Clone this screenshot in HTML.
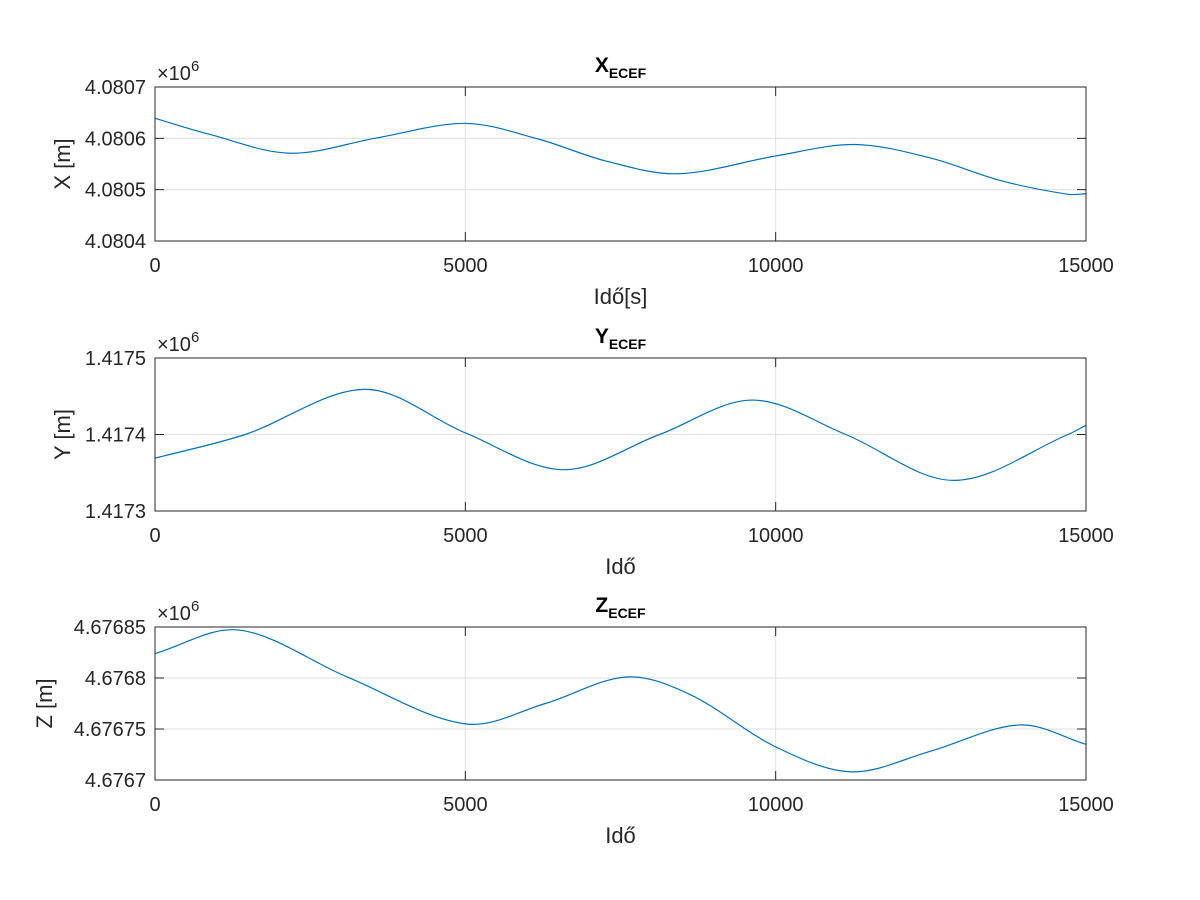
<!DOCTYPE html>
<html><head><meta charset="utf-8"><style>
html,body{margin:0;padding:0;background:#fff;}
svg{display:block;font-family:"Liberation Sans",Arial,sans-serif;}
</style></head><body>
<svg id="fig" width="1200" height="900" viewBox="0 0 1200 900"></svg>
<script>
const tX=[0,871,2177,3581,5003,6194,7258,8419,10016,11274,12484,13645,14710,15000];
const vX=[4.080639,4.080608,4.080571,4.080601,4.080629,4.080598,4.080556,4.080531,4.080566,4.080588,4.080562,4.080517,4.080491,4.080492];
const tY=[0,1452,3387,5003,6581,8129,9629,11129,12871,14710,15000];
const vY=[1.417369,1.4174,1.417459,1.417402,1.417354,1.4174,1.417445,1.4174,1.41734,1.4174,1.417412];
const tZ=[0,1355,3097,5003,6290,7597,8613,10016,11226,12484,13935,15000];
const vZ=[4.676824,4.676847,4.676801,4.676755,4.676775,4.676801,4.676784,4.676732,4.676708,4.676728,4.676754,4.676735];
const xTicks=[0,5000,10000,15000];
const ticksX=["4.0804","4.0805","4.0806","4.0807"];
const ticksY=["1.4173","1.4174","1.4175"];
const ticksZ=["4.6767","4.67675","4.6768","4.67685"];
const NS="http://www.w3.org/2000/svg";
const svg=document.getElementById('fig');
function mk(tag,attrs,parent,text){const e=document.createElementNS(NS,tag);for(const k in attrs)e.setAttribute(k,attrs[k]);if(text!==undefined)e.textContent=text;(parent||svg).appendChild(e);return e;}
const L=155,R=1086;
function panel(top,bot,ts,vs,ticks,title,ylab,xlab,nm,ylx){
  const g=mk('g',{});
  
  
  const y0=parseFloat(ticks[0]),y1=parseFloat(ticks[ticks.length-1]);
  const sx=t=>L+(t-0)/(15000)*(R-L);
  const sy=v=>bot-(v-y0)/(y1-y0)*(bot-top);
  xTicks.forEach(t=>{const x=sx(t);
    const gl=mk('line',{x1:x,x2:x,y1:top,y2:bot,stroke:'#dfdfdf','stroke-width':1},g);
    
    mk('line',{x1:x,x2:x,y1:bot,y2:bot-9,stroke:'#262626'},g);
    mk('line',{x1:x,x2:x,y1:top,y2:top+9,stroke:'#262626'},g);
    const tl=mk('text',{x:x,y:bot+31,'text-anchor':'middle','font-size':20,fill:'#262626'},g,String(t));
    
  });
  ticks.forEach(s=>{const y=sy(parseFloat(s));
    const gl=mk('line',{x1:L,x2:R,y1:y,y2:y,stroke:'#dfdfdf','stroke-width':1},g);
    
    mk('line',{x1:L,x2:L+9,y1:y,y2:y,stroke:'#262626'},g);
    mk('line',{x1:R,x2:R-9,y1:y,y2:y,stroke:'#262626'},g);
    const tl=mk('text',{x:L-9,y:y+7,'text-anchor':'end','font-size':20,fill:'#262626'},g,s);
    
  });
  const P=ts.map((t,i)=>[sx(t),sy(vs[i])]);
  let d='M'+P[0][0]+','+P[0][1];
  for(let i=0;i<P.length-1;i++){
    const p0=P[Math.max(0,i-1)],p1=P[i],p2=P[i+1],p3=P[Math.min(P.length-1,i+2)];
    const h=p2[0]-p1[0];
    const m1=(p2[1]-p0[1])/(p2[0]-p0[0]||1), m2=(p3[1]-p1[1])/(p3[0]-p1[0]||1);
    const c1=[p1[0]+h/3,p1[1]+m1*h/3];
    const c2=[p2[0]-h/3,p2[1]-m2*h/3];
    d+=' C'+c1[0]+','+c1[1]+' '+c2[0]+','+c2[1]+' '+p2[0]+','+p2[1];
  }
  const ln=mk('path',{d:d,fill:'none',stroke:'#0072bd','stroke-width':1.2},g);
  
  const box=mk('rect',{x:L,y:top,width:R-L,height:bot-top,fill:'none',stroke:'#262626','stroke-width':1},g);
  
  const ex=mk('text',{x:L+2,y:top-7,'font-size':20,fill:'#262626'},g);
  
  ex.innerHTML='×10<tspan dy="-9" font-size="15">6</tspan>';
  const ti=mk('text',{x:(L+R)/2,y:top-15,'text-anchor':'middle','font-size':21,'font-weight':'bold',fill:'#000'},g);
  
  ti.innerHTML=title+'<tspan dy="6" font-size="14">ECEF</tspan>';
  const yl=mk('text',{x:0,y:0,'text-anchor':'middle','font-size':22,fill:'#262626',transform:`translate(${ylx},${(top+bot)/2}) rotate(-90)`},g,ylab);
  
  const xl=mk('text',{x:(L+R)/2,y:bot+63,'text-anchor':'middle','font-size':22,fill:'#262626'},g,xlab);
  
}
panel(87,241,tX,vX,ticksX,'X','X [m]','Idő[s]','x-ecef',70);
panel(358,511,tY,vY,ticksY,'Y','Y [m]','Idő','y-ecef',70);
panel(627,780,tZ,vZ,ticksZ,'Z','Z [m]','Idő','z-ecef',52);
</script>
</body></html>
